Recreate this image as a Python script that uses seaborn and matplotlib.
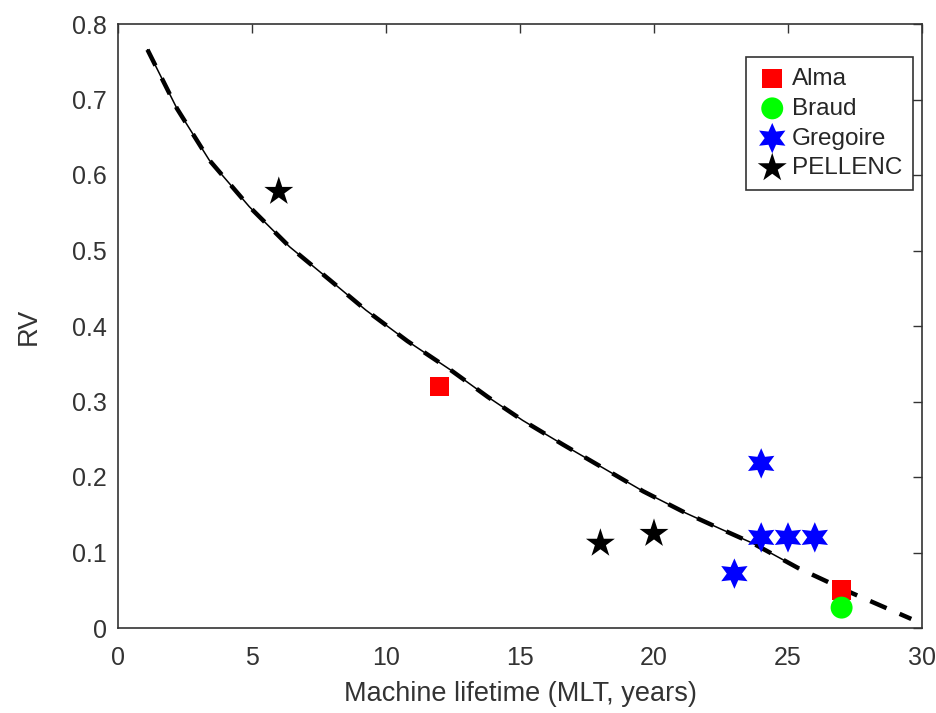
import numpy as np
import pandas as pd
import seaborn as sns
import matplotlib.pyplot as plt

# data
alma_x = [12, 27]
alma_y = [0.32, 0.05]
braud_x = [27]
braud_y = [0.027]
gregoire_x = [23, 24, 24, 25, 26]
gregoire_y = [0.072, 0.218, 0.12, 0.12, 0.12]
pellenc_x = [6, 18, 20]
pellenc_y = [0.578, 0.112, 0.125]

# fitted curve
fit_x = [1.1, 2.2, 3.4, 4.9, 6.4, 7.9, 9.25, 10.8, 12.4, 13.8, 15.1, 16.6, 18.1, 19.6, 21.2, 22.5, 23.7, 25.4, 27.4, 29.6]
fit_y = [0.766, 0.688, 0.620, 0.558, 0.505, 0.461, 0.421, 0.380, 0.342, 0.306, 0.275, 0.243, 0.212, 0.181, 0.152, 0.131, 0.112, 0.079, 0.046, 0.012]
solid_end = 25.4

x_ticks = [0, 5, 10, 15, 20, 25, 30]
y_ticks = [0, 0.1, 0.2, 0.3, 0.4, 0.5, 0.6, 0.7, 0.8]
y_tick_labels = ["0", "0.1", "0.2", "0.3", "0.4", "0.5", "0.6", "0.7", "0.8"]

sns.set_style("white")
plt.rcParams["font.family"] = ["Liberation Sans", "DejaVu Sans"]
grey = "#333333"

fig = plt.figure(figsize=(9.37, 7.13), dpi=100)
ax = fig.add_axes([118 / 937, 1 - 628 / 713, (922 - 118) / 937, (628 - 24) / 713])

fit = pd.DataFrame({"x": fit_x, "y": fit_y})
# thin solid part under the dashes
sns.lineplot(data=fit[fit["x"] <= solid_end], x="x", y="y", color="black", lw=1.1, ax=ax)
sns.lineplot(data=fit, x="x", y="y", color="black", lw=3.2,
             linestyle=(0, (4.0, 3.2)), ax=ax)

sns.scatterplot(x=alma_x, y=alma_y, marker="s", s=200, color="#ff0000",
                edgecolor="none", label="Alma", ax=ax, zorder=3)
sns.scatterplot(x=braud_x, y=braud_y, marker="o", s=250, color="#00ff00",
                edgecolor="none", label="Braud", ax=ax, zorder=3)
sns.scatterplot(x=gregoire_x, y=gregoire_y, marker=(6, 1, 0), s=480, color="#0000ff",
                edgecolor="none", label="Gregoire", ax=ax, zorder=3)
sns.scatterplot(x=pellenc_x, y=pellenc_y, marker="*", s=480, color="black",
                edgecolor="none", label="PELLENC", ax=ax, zorder=3)

ax.set_xlim(0, 30)
ax.set_ylim(0, 0.8)
ax.set_xticks(x_ticks)
ax.set_yticks(y_ticks)
ax.set_yticklabels(y_tick_labels)
ax.tick_params(direction="in", length=6.5, width=1.0, color=grey, labelcolor=grey,
               labelsize=18, top=True, right=True)
ax.tick_params(axis="x", pad=13)
ax.tick_params(axis="y", pad=8)
for sp in ax.spines.values():
    sp.set_color(grey)
    sp.set_linewidth(1.2)

ax.set_xlabel("Machine lifetime (MLT, years)", fontsize=19.5, color=grey, labelpad=8)
ax.set_ylabel("RV", fontsize=19.5, color=grey, labelpad=22)

leg = ax.legend(loc="upper right", bbox_to_anchor=(913 / 937, 1 - 57 / 713),
                bbox_transform=fig.transFigure, borderaxespad=0, fontsize=17.5,
                frameon=True, fancybox=False, edgecolor="black", handlelength=1.3,
                handletextpad=0.15, labelspacing=0.32, borderpad=0.45, markerscale=1.0)
leg.get_frame().set_linewidth(1.2)

fig.savefig("out.png", dpi=100)
